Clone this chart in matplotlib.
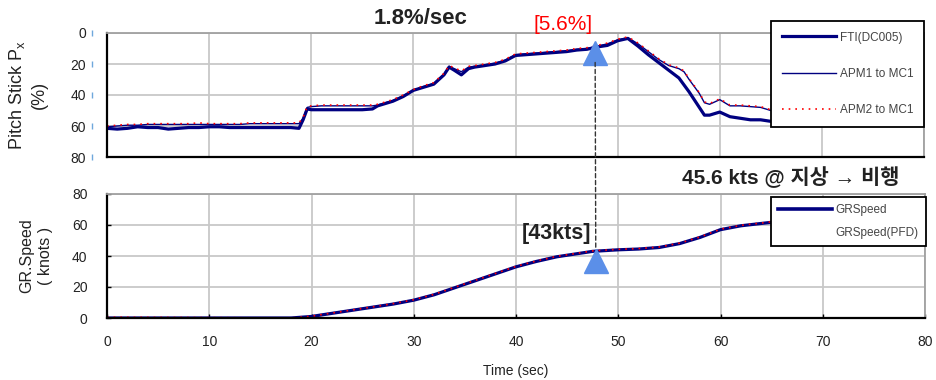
import matplotlib
matplotlib.use("Agg")
import matplotlib.pyplot as plt
from matplotlib.lines import Line2D
from matplotlib.patches import ConnectionPatch

plt.rcParams['font.family'] = ['Liberation Sans', 'Noto Sans CJK KR', 'DejaVu Sans']
plt.rcParams['mathtext.fontset'] = 'custom'
plt.rcParams['mathtext.rm'] = 'Liberation Sans'
plt.rcParams['mathtext.it'] = 'Liberation Sans'

# ---------------- data ----------------
t_fti = [0, 1, 2, 3, 4, 5, 6, 7, 8, 9, 10, 11, 12, 13, 14, 15, 16, 17, 18, 18.8, 19.2, 19.6,
         20, 21, 22, 23, 24, 25, 26, 26.5, 27, 28, 29, 30, 31, 32, 33, 33.5, 34, 34.7, 35.4,
         36, 37, 38, 39, 40, 41, 42, 43, 44, 45, 46, 47, 48, 49, 50, 51, 52, 53, 54, 55, 56,
         57, 58, 58.5, 59, 60, 61, 62, 63, 64, 65, 66, 68, 70, 72, 75, 80]
fti = [61.5, 62, 61.5, 60.5, 61, 61, 62, 61.5, 61, 61, 60.5, 60.5, 61, 61, 61, 61, 61, 61, 61, 61.5, 56, 49,
       49.5, 49.5, 49.5, 49.5, 49.5, 49.5, 49, 47, 46, 44, 41, 37, 35, 33, 27, 22, 24, 27, 23,
       22, 21, 20, 18, 14.5, 14, 13.5, 13, 12.5, 12, 11, 10.5, 9, 8, 5, 3.5, 8.5, 14, 19, 24, 29,
       38, 48, 53, 53, 51, 54, 55, 56, 56, 57, 57, 57.5, 58, 58, 58, 58]

t_apm = [0, 1, 2, 3, 4, 5, 6, 7, 8, 9, 10, 11, 12, 13, 14, 15, 16, 17, 18, 18.8, 19.2, 19.6,
         20, 21, 22, 23, 24, 25, 26, 26.5, 27, 28, 29, 30, 31, 32, 33, 33.5, 34, 34.7, 35.4,
         36, 37, 38, 39, 40, 41, 42, 43, 44, 45, 46, 47, 48, 49, 50, 51, 52, 53, 54, 55, 56,
         56.5, 57, 58, 58.5, 59, 60, 60.5, 61, 62, 63, 64, 65, 66, 68, 70, 72, 75, 80]
apm1 = [60.5, 60, 59.5, 59.5, 59, 59, 59, 59, 59, 59, 59, 59, 59, 59, 58.5, 58.5, 58.5, 58.5, 58.5, 58.5, 55, 48,
        47.5, 47, 47, 47, 47, 47, 47, 46.5, 45.5, 43.5, 40.5, 37, 34.5, 32.5, 26.5, 21.5, 23, 25, 22,
        21.5, 20.5, 19.5, 17.5, 14, 13.5, 13, 12.5, 12, 11.5, 10.5, 10, 8.5, 7, 4.5, 3, 7, 12, 17, 21, 23,
        25, 30, 39, 45, 46, 43, 45, 47, 47, 47.5, 48, 50, 49, 49.5, 50, 50, 50, 50]
apm2 = [60, 59.5, 59, 59, 58.5, 58.5, 58.5, 58.5, 58.5, 58, 58.5, 58.5, 58.5, 58.5, 58, 58, 58, 58, 58, 58, 54.5, 47.5,
        47, 46.5, 46.5, 46.5, 46.5, 46.5, 46.5, 46, 45, 43, 40, 36.5, 34, 32, 26, 21, 22.5, 24.5, 21.5,
        21, 20, 19, 17, 13.5, 13, 12.5, 12, 11.5, 11, 10, 9.5, 8, 6.5, 4, 2.5, 6.5, 11.5, 16.5, 20.5, 22.5,
        24.5, 29.5, 38.5, 44.5, 45.5, 42.5, 44.5, 46.5, 46.5, 47, 47.5, 49.5, 48.5, 49, 49.5, 49.5, 49.5, 49.5]

t_gs = [0, 18, 19, 20, 22, 24, 26, 28, 30, 32, 34, 36, 38, 40, 42, 44, 46, 47.5, 50, 52, 54,
        56, 58, 60, 62, 64, 66, 68, 70, 72, 75, 80]
gr_speed = [0, 0, 0.5, 1, 3, 5, 7, 9, 11.5, 15, 19.5, 24, 28.5, 33, 36.5, 39.5, 41.5, 43, 44, 44.5,
            45.5, 48, 52, 57, 59.5, 61, 62.5, 64, 65, 66, 67, 68]
gr_speed_pfd = [0.5, 0, 0.5, 1.2, 3.2, 5.2, 7.2, 9.3, 11.8, 15.3, 19.8, 24.3, 28.8, 33.3, 36.8, 39.8,
                41.8, 43.3, 44.3, 44.8, 45.8, 48.3, 52.3, 57.3, 59.8, 61.3, 62.8, 64.3, 65.3, 66.3, 67.3, 68.3]

x_ticks = [0, 10, 20, 30, 40, 50, 60, 70, 80]
y_ticks = [0, 20, 40, 60, 80]

event_t = 47.8
event_px = 13
event_px_line = 19
event_gs = 37
event_gs_line = 45

navy = '#000080'
grid_c = '#c8c8c8'
txt_c = '#222222'

fig = plt.figure(figsize=(9.37, 3.80), dpi=100)
ax1 = fig.add_axes([107/937, 1-157/380, 817/937, 124/380])
ax2 = fig.add_axes([107/937, 1-318/380, 818/937, 124/380])

for ax in (ax1, ax2):
    ax.set_xlim(0, 80)
    ax.set_xticks(x_ticks)
    ax.set_yticks(y_ticks)
    ax.grid(True, color=grid_c, linewidth=1.3)
    ax.set_axisbelow(True)
    for s in ('top', 'right'):
        ax.spines[s].set_color('#a0a0a0')
        ax.spines[s].set_linewidth(1.3)
    for s in ('left', 'bottom'):
        ax.spines[s].set_color('black')
        ax.spines[s].set_linewidth(1.6)

# top panel
ax1.set_ylim(80, 0)
ax1.plot(t_fti, fti, color=navy, lw=2.3, label='FTI(DC005)')
ax1.plot(t_apm, apm1, color=navy, lw=1.0, label='APM1 to MC1')
ax1.plot(t_apm, apm2, color='red', lw=1.2, ls=(0, (1, 3)), label='APM2 to MC1')
ax1.tick_params(axis='x', which='both', length=0, labelbottom=False)
ax1.tick_params(axis='y', length=0, pad=15, labelsize=10, labelcolor=txt_c)
ax1.plot([-0.018] * len(y_ticks), y_ticks, ls='none', marker='|', ms=5, mew=1,
         color='#6fa8dc', transform=ax1.get_yaxis_transform(), clip_on=False)
ax1.plot([event_t], [event_px], marker='^', ms=17, color='#5b8fe8', ls='none', zorder=5)
ax1.set_ylabel('Pitch Stick P$_{\\mathrm{x}}$\n(%)', fontsize=13, color=txt_c, linespacing=1.35)
ax1.yaxis.set_label_coords(-0.072, 0.5)

leg1 = ax1.legend(loc='upper right', bbox_to_anchor=(924/937, 1-21/380), bbox_transform=fig.transFigure,
                  fontsize=8.5, handlelength=4.6, handletextpad=0.3, labelspacing=2.05,
                  borderpad=0.9, fancybox=False, framealpha=1, edgecolor='black', borderaxespad=0)
leg1.get_frame().set_linewidth(1.3)
for tx in leg1.get_texts():
    tx.set_color('#444444')

# bottom panel
ax2.set_ylim(0, 80)
ax2.plot(t_gs, gr_speed, color=navy, lw=2.3, label='GRSpeed')
ax2.plot(t_gs, gr_speed_pfd, color='red', lw=1.2, ls=(0, (1, 3)))
ax2.plot([event_t], [event_gs], marker='^', ms=17, color='#5b8fe8', ls='none', zorder=5)
ax2.tick_params(axis='both', direction='in', length=3, width=1, labelsize=10, labelcolor=txt_c)
ax2.tick_params(axis='y', pad=14)
ax2.tick_params(axis='x', pad=12)
ax2.set_ylabel('GR.Speed\n( knots )', fontsize=11.5, color=txt_c, linespacing=1.3)
ax2.yaxis.set_label_coords(-0.066, 0.5)
ax2.set_xlabel('Time (sec)', fontsize=10, color=txt_c, labelpad=11)

h_gs = Line2D([], [], color=navy, lw=2.6)
h_pfd = Line2D([], [], ls='none')
leg2 = ax2.legend([h_gs, h_pfd], ['GRSpeed', 'GRSpeed(PFD)'], loc='upper right',
                  bbox_to_anchor=(926/937, 1-197/380), bbox_transform=fig.transFigure,
                  fontsize=8.5, handlelength=4.6, handletextpad=0.3, labelspacing=0.95,
                  borderpad=0.6, fancybox=False, framealpha=1, edgecolor='black', borderaxespad=0)
leg2.get_frame().set_linewidth(1.3)
for tx in leg2.get_texts():
    tx.set_color('#444444')

# connecting dashed line
con = ConnectionPatch(xyA=(event_t, event_px_line), coordsA=ax1.transData,
                      xyB=(event_t, event_gs_line), coordsB=ax2.transData,
                      color='#333333', lw=1.0, ls=(0, (3, 2)), zorder=6)
fig.add_artist(con)

# annotations
fig.text(421/937, 1-19/380, '1.8%/sec', fontsize=16, fontweight='bold', color=txt_c,
         ha='center', va='center')
fig.text(563/937, 1-24/380, '[5.6%]', fontsize=15, color='red', ha='center', va='center')
fig.text(557/937, 1-233/380, '[43kts]', fontsize=15.5, fontweight='bold', color=txt_c,
         ha='center', va='center')
fig.text(791/937, 1-177/380, '45.6 kts @ 지상 → 비행', fontsize=15, fontweight='bold',
         color=txt_c, ha='center', va='center')

fig.savefig('out.png', dpi=100)
